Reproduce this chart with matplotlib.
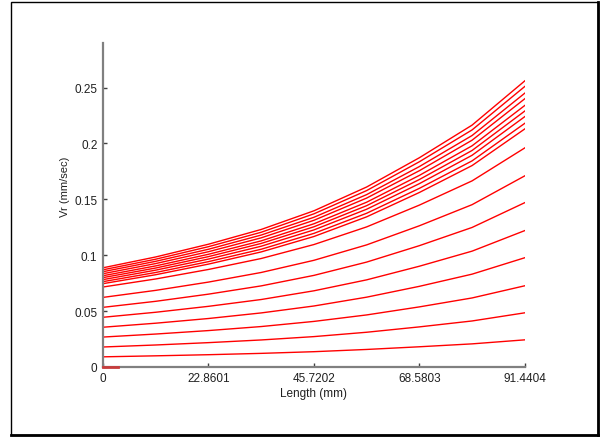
import matplotlib
matplotlib.use("Agg")
import matplotlib.pyplot as plt
from matplotlib.patches import Rectangle

plt.rcParams['font.family'] = ['Liberation Sans', 'DejaVu Sans']

# axial positions (mm)
length = [0.0, 11.43, 22.8601, 34.29, 45.7202, 57.15, 68.5803, 80.01, 91.4404]

# radial velocity (mm/sec), one curve per radial station
vr_01 = [0.0090, 0.0099, 0.0109, 0.0121, 0.0136, 0.0156, 0.0180, 0.0206, 0.0242]
vr_02 = [0.0178, 0.0196, 0.0217, 0.0241, 0.0271, 0.0310, 0.0358, 0.0411, 0.0484]
vr_03 = [0.0267, 0.0294, 0.0325, 0.0361, 0.0407, 0.0465, 0.0537, 0.0617, 0.0726]
vr_04 = [0.0355, 0.0391, 0.0433, 0.0483, 0.0545, 0.0624, 0.0721, 0.0830, 0.0977]
vr_05 = [0.0444, 0.0489, 0.0542, 0.0603, 0.0681, 0.0779, 0.0901, 0.1036, 0.1220]
vr_06 = [0.0533, 0.0587, 0.0651, 0.0725, 0.0819, 0.0938, 0.1085, 0.1248, 0.1470]
vr_07 = [0.0622, 0.0685, 0.0759, 0.0845, 0.0954, 0.1092, 0.1263, 0.1452, 0.1710]
vr_08 = [0.0715, 0.0787, 0.0872, 0.0970, 0.1095, 0.1253, 0.1448, 0.1665, 0.1960]
vr_09 = [0.0745, 0.0825, 0.0920, 0.1029, 0.1167, 0.1343, 0.1561, 0.1802, 0.2130]
vr_10 = [0.0763, 0.0845, 0.0942, 0.1053, 0.1195, 0.1375, 0.1598, 0.1844, 0.2180]
vr_11 = [0.0781, 0.0866, 0.0965, 0.1080, 0.1226, 0.1411, 0.1640, 0.1894, 0.2240]
vr_12 = [0.0799, 0.0885, 0.0987, 0.1105, 0.1254, 0.1443, 0.1677, 0.1937, 0.2290]
vr_13 = [0.0816, 0.0904, 0.1008, 0.1128, 0.1281, 0.1474, 0.1714, 0.1979, 0.2340]
vr_14 = [0.0834, 0.0925, 0.1031, 0.1155, 0.1312, 0.1511, 0.1756, 0.2029, 0.2400]
vr_15 = [0.0852, 0.0945, 0.1053, 0.1180, 0.1339, 0.1542, 0.1793, 0.2071, 0.2450]
vr_16 = [0.0869, 0.0964, 0.1076, 0.1205, 0.1370, 0.1578, 0.1836, 0.2121, 0.2510]
vr_17 = [0.0887, 0.0984, 0.1098, 0.1230, 0.1397, 0.1610, 0.1872, 0.2164, 0.2560]

# wall station, only the first sample is nonzero-length
wall_x = [0.0, 3.2]
wall_y = [0.0, 0.0]

curves = [vr_01, vr_02, vr_03, vr_04, vr_05, vr_06, vr_07, vr_08, vr_09,
          vr_10, vr_11, vr_12, vr_13, vr_14, vr_15, vr_16, vr_17]

xticks = [0, 22.8601, 45.7202, 68.5803, 91.4404]
xticklabels = ['0', '22.8601', '45.7202', '68.5803', '91.4404']
yticks = [0, 0.05, 0.1, 0.15, 0.2, 0.25]
yticklabels = ['0', '0.05', '0.1', '0.15', '0.2', '0.25']

fig = plt.figure(figsize=(6.06, 4.39), dpi=100)
ax = fig.add_axes([0.170, 0.162, 0.696, 0.738])

for vr in curves:
    ax.plot(length, vr, color='red', lw=1.0)
ax.plot(wall_x, wall_y, color='#c83c3c', lw=2.0, clip_on=False, zorder=5)

ax.set_xlim(0, 91.4404)
ax.set_ylim(0, 0.29)
ax.set_xticks(xticks)
ax.set_xticklabels(xticklabels)
ax.set_yticks(yticks)
ax.set_yticklabels(yticklabels)

for s in ['top', 'right']:
    ax.spines[s].set_visible(False)
for s in ['left', 'bottom']:
    ax.spines[s].set_color('#808080')
    ax.spines[s].set_linewidth(1.6)
ax.tick_params(direction='in', length=3, width=1, color='#404040',
               labelsize=8.5, pad=4, labelcolor='#202020')

ax.set_xlabel('Length (mm)', fontsize=8.5, color='#202020')
ax.xaxis.set_label_coords(0.5, -0.062)
ax.set_ylabel('Vr (mm/sec)', fontsize=8, color='#202020')
ax.yaxis.set_label_coords(-0.078, 0.56)

# outer frame with a heavier right/bottom edge
W, H = 606, 439
fig.patches.append(Rectangle((11 / W, 3 / H), (598 - 11) / W, (436 - 3) / H,
                             transform=fig.transFigure, fill=False,
                             edgecolor='black', lw=1.0))
fig.lines.append(plt.Line2D([598 / W, 598 / W], [3 / H, 436 / H],
                            transform=fig.transFigure, color='black', lw=2.0))
fig.lines.append(plt.Line2D([11 / W, 598 / W], [3 / H, 3 / H],
                            transform=fig.transFigure, color='black', lw=2.0))

fig.savefig('out.png', dpi=100)
